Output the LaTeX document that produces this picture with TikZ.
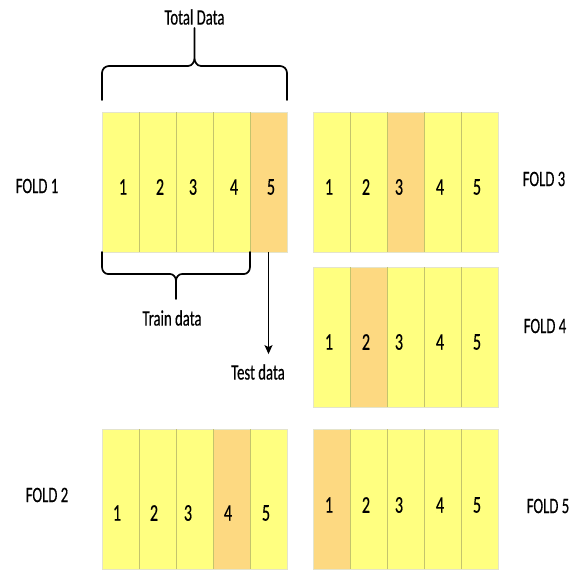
\documentclass[tikz,border=0pt]{standalone}
\usepackage{fontspec}
\setmainfont{Carlito}[FakeStretch=0.67, FakeBold=0.4]
\usetikzlibrary{arrows.meta,calc}

\definecolor{trainfill}{HTML}{FFFF80}
\definecolor{testfill}{HTML}{FDD981}
\definecolor{divider}{HTML}{C4C46C}
\definecolor{rim}{HTML}{E4E4CC}

\tikzset{
  cell/.style={draw=none, minimum width=37pt, minimum height=140pt,
               inner sep=0pt, outer sep=0pt, anchor=north west},
  digit/.style={font=\fontsize{24}{24}\selectfont, inner sep=0pt},
  caption/.style={font=\fontsize{22}{22}\selectfont, inner sep=0pt},
  brace/.style={line width=1.7pt, line cap=round, line join=round},
  pointer/.style={line width=1.5pt, -{Stealth[length=9pt,width=8pt,inset=2pt]}},
}

% One fold: five cells, the test cell shaded, with numbered columns.
% #1 name, #2 left x, #3 top y, #4 test column, #5 digit y, #6 list i/x of digits
\newcommand\drawfold[6]{%
  \foreach \i in {1,...,5} {
    \ifnum\i=#4 \def\cellcol{testfill}\else\def\cellcol{trainfill}\fi
    \node[cell, fill=\cellcol] (#1c\i) at ({#2+37*(\i-1)}, #3) {};
  }
  \draw[rim, line width=0.6pt] (#1c1.north west) rectangle (#1c5.south east);
  \foreach \i in {1,...,4}
    \draw[divider, line width=0.9pt] (#1c\i.north east) -- (#1c\i.south east);
  \foreach \i/\dx in {#6}
    \node[digit] (#1d\i) at (\dx, #5) {\i};
}

\begin{document}
\begin{tikzpicture}[x=1pt, y=-1pt]
  \useasboundingbox[fill=white] (0,0) rectangle (570,570);

  \drawfold{fold1}{102}{112}{5}{187}{1/123,2/160,3/193,4/234,5/271}
  \drawfold{fold3}{313}{112}{3}{187}{1/329,2/366,3/399,4/440,5/477}
  \drawfold{fold4}{313}{267}{2}{342}{1/329,2/366,3/399,4/440,5/477}
  \drawfold{fold2}{102}{429}{4}{513}{1/117,2/154,3/188,4/228,5/266}
  \drawfold{fold5}{313}{429}{1}{505}{1/329,2/366,3/399,4/440,5/477}

  % fold labels
  \node[caption] (lab1) at (37,186) {FOLD 1};
  \node[caption] (lab3) at (544,179) {FOLD 3};
  \node[caption] (lab4) at (545,326) {FOLD 4};
  \node[caption] (lab2) at (47,495) {FOLD 2};
  \node[caption] (lab5) at (548,506) {FOLD 5};

  % brace over the whole data set
  \node[caption] (total) at (194.5,17) {Total Data};
  \coordinate (tl) at ($(fold1c1.north west)+(0,-12)$);
  \coordinate (tr) at ($(fold1c5.north east)+(0,-12)$);
  \draw[brace] ($(total.south)+(0,3)$) -- (194.5,58)
      to[out=-90,in=0] (188,66) -- (109,66) to[out=180,in=90] (102,73) -- (tl)
      (194.5,58) to[out=-90,in=180] (201,66) -- (280,66) to[out=0,in=90] (287,73) -- (tr);

  % brace under the training part
  \node[caption] (train) at (172,318) {Train data};
  \draw[brace] (fold1c1.south west) -- (102,267) to[out=-90,in=180] (108,274)
      -- (170,274) to[out=0,in=90] (176,281) -- (176,299)
      (176,281) to[out=90,in=180] (182,274) -- (244,274)
      to[out=0,in=-90] (250,267) -- (fold1c4.south east);

  % arrow to the test part
  \node[caption] (test) at (258,372) {Test data};
  \draw[pointer, shorten >=10pt] (fold1c5.south) -- (fold1c5.south |- test.north);
\end{tikzpicture}
\end{document}
